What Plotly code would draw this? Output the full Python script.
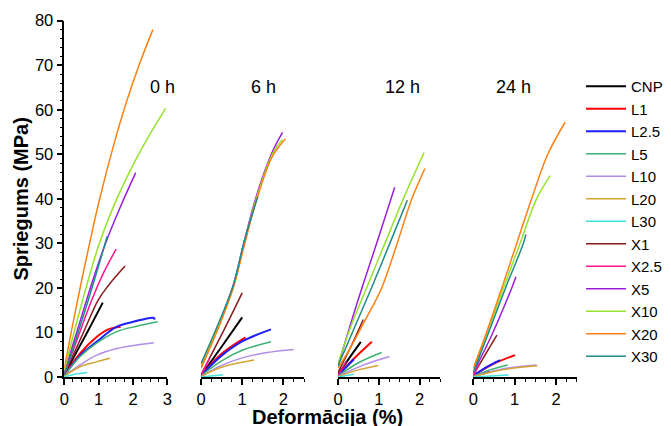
import plotly.graph_objects as go

# Series names, in legend order
SERIES = ["CNP", "L1", "L2.5", "L5", "L10", "L20", "L30",
          "X1", "X2.5", "X5", "X10", "X20", "X30"]

COLORS = {
    "CNP": "#000000", "L1": "#FF0000", "L2.5": "#1E1EFF", "L5": "#3CB371",
    "L10": "#B48CE6", "L20": "#D4A634", "L30": "#40E0E0", "X1": "#8B1A1A",
    "X2.5": "#FF1493", "X5": "#9A1ED8", "X10": "#97E22E", "X20": "#FF8010",
    "X30": "#1F8A8A",
}

PANELS = ["0 h", "6 h", "12 h", "24 h"]

# Strain (%) and stress (MPa) curves, 0 h
strain_0h = {
    "CNP": [0, 0.3, 0.7, 1.12],
    "L1": [0, 0.46, 0.94, 1.28, 1.64],
    "L2.5": [0, 0.46, 0.94, 1.53, 2.01, 2.59, 2.64],
    "L5": [0, 0.46, 0.94, 1.53, 2.11, 2.72],
    "L10": [0, 0.46, 0.94, 1.53, 2.11, 2.61],
    "L20": [0, 0.46, 0.94, 1.33],
    "L30": [0, 0.3, 0.67],
    "X1": [0, 0.5, 0.99, 1.28, 1.77],
    "X2.5": [0, 0.4, 0.8, 1.15, 1.51],
    "X5": [0, 0.4, 0.8, 1.2, 1.65, 2.08],
    "X10": [0, 0.3, 0.65, 1.0, 1.5, 2.2, 2.95],
    "X20": [0, 0.25, 0.5, 0.75, 1.0, 1.4, 1.8, 2.2, 2.58],
    "X30": [0, 0.7, 1.25],
}
stress_0h = {
    "CNP": [0.5, 4.8, 10.5, 16.7],
    "L1": [0.3, 5.3, 9.0, 10.7, 11.3],
    "L2.5": [0.3, 4.8, 7.9, 11.3, 12.4, 13.3, 12.9],
    "L5": [0.3, 4.6, 7.6, 10.2, 11.4, 12.4],
    "L10": [0.2, 2.7, 4.9, 6.4, 7.2, 7.7],
    "L20": [0.2, 2.3, 3.4, 4.2],
    "L30": [0, 0.6, 1.0],
    "X1": [0.5, 9, 17.3, 20.5, 24.9],
    "X2.5": [0.5, 9, 17.3, 23.5, 28.7],
    "X5": [1, 11, 21, 30, 38.5, 45.9],
    "X10": [1.5, 10.5, 20.5, 29.5, 39.5, 50.5, 60.3],
    "X20": [2, 12, 21.5, 30.5, 39, 51, 61.5, 70.5, 78],
    "X30": [0.5, 17.3, 31.6],
}

# 6 h
strain_6h = {
    "CNP": [0, 0.5, 1.0],
    "L1": [0, 0.5, 1.08],
    "L2.5": [0, 0.5, 1.0, 1.7],
    "L5": [0, 0.5, 1.0, 1.7],
    "L10": [0, 0.5, 1.0, 1.6, 2.25],
    "L20": [0, 0.5, 1.29],
    "L30": [0, 0.54],
    "X1": [0, 0.5, 1.0],
    "X2.5": [0, 0.2],
    "X5": [0, 0.4, 0.78, 1.05, 1.34, 1.73, 1.98],
    "X10": [0, 0.4, 0.78, 1.05, 1.34, 1.73, 1.97],
    "X20": [0, 0.4, 0.78, 1.05, 1.34, 1.73, 2.05],
    "X30": [0, 0.4, 0.78, 1.05, 1.38],
}
stress_6h = {
    "CNP": [0.3, 6.8, 13.4],
    "L1": [0.3, 5.2, 8.9],
    "L2.5": [0.3, 4.8, 8.0, 10.7],
    "L5": [0.2, 3.6, 6.0, 7.9],
    "L10": [0.1, 2.6, 4.3, 5.5, 6.2],
    "L20": [0.1, 2.2, 3.8],
    "L30": [0, 0.5],
    "X1": [0.5, 9.5, 18.9],
    "X2.5": [0.3, 4],
    "X5": [2, 11, 20.5, 30.5, 40.5, 50.5, 54.9],
    "X10": [2.5, 11, 20, 30, 40, 50, 53.3],
    "X20": [2, 10.5, 20, 29.5, 39.5, 49.5, 53.5],
    "X30": [3, 11.5, 20.5, 30.5, 40.5],
}

# 12 h
strain_12h = {
    "CNP": [0, 0.28, 0.56],
    "L1": [0, 0.4, 0.83],
    "L2.5": [0, 0.39],
    "L5": [0, 0.5, 1.07],
    "L10": [0, 0.6, 1.26],
    "L20": [0, 0.5, 0.99],
    "L30": [0, 0.39],
    "X1": [0, 0.3, 0.62],
    "X2.5": [0, 0.2],
    "X5": [0, 0.5, 1.0, 1.39],
    "X10": [0, 0.3, 0.7, 1.15, 1.6, 2.11],
    "X20": [0, 0.3, 0.65, 1.07, 1.45, 1.81, 2.13],
    "X30": [0, 0.4, 0.82, 1.27, 1.7],
}
stress_12h = {
    "CNP": [0.5, 4.3, 7.9],
    "L1": [0.3, 4.2, 7.9],
    "L2.5": [0.3, 4.0],
    "L5": [0.2, 3.2, 5.5],
    "L10": [0.1, 2.6, 4.6],
    "L20": [0.1, 1.6, 2.6],
    "L30": [0, 0.6],
    "X1": [1, 6.5, 12.9],
    "X2.5": [0.3, 3.5],
    "X5": [2.5, 17.5, 31.5, 42.6],
    "X10": [3, 11, 20, 30, 40, 50.4],
    "X20": [2, 6.5, 12.5, 20, 30, 40, 46.8],
    "X30": [2.5, 11, 20, 30, 39.7],
}

# 24 h
strain_24h = {
    "CNP": [0, 0.4],
    "L1": [0, 0.5, 1.01],
    "L2.5": [0, 0.35, 0.65],
    "L5": [0, 0.4, 0.83],
    "L10": [0, 0.7, 1.53],
    "L20": [0, 0.7, 1.55],
    "L30": [0, 0.85],
    "X1": [0, 0.57],
    "X2.5": [0, 0.15],
    "X5": [0, 0.45, 0.93, 1.03],
    "X10": [0, 0.3, 0.73, 1.13, 1.53, 1.86],
    "X20": [0, 0.3, 0.69, 1.05, 1.41, 1.8, 2.22],
    "X30": [0, 0.35, 0.78, 1.21, 1.27],
}
stress_24h = {
    "CNP": [0.2, 1.2],
    "L1": [0.3, 3.0, 4.9],
    "L2.5": [0.3, 2.4, 3.8],
    "L5": [0.2, 1.6, 2.7],
    "L10": [0.1, 1.8, 2.7],
    "L20": [0.1, 1.6, 2.5],
    "L30": [0, 0.45],
    "X1": [0.5, 9.4],
    "X2.5": [0.3, 3],
    "X5": [1, 9.5, 20, 22.5],
    "X10": [1.5, 9, 20, 30, 40, 45.2],
    "X20": [2, 9.5, 20, 30, 40, 50, 57.2],
    "X30": [1, 9.5, 20, 30, 32],
}

STRAIN = [strain_0h, strain_6h, strain_12h, strain_24h]
STRESS = [stress_0h, stress_6h, stress_12h, stress_24h]
X_RANGES = [[0, 3], [0, 2.5], [0, 2.5], [0, 2.5]]

W, H = 671, 426
FONT = "Arial, Liberation Sans, sans-serif"

fig = go.Figure()

for p, (sx, sy) in enumerate(zip(STRAIN, STRESS)):
    xref = "x" if p == 0 else f"x{p + 1}"
    for name in SERIES:
        wide = name in ("CNP", "L1", "L2.5")
        fig.add_trace(go.Scatter(
            x=sx[name], y=sy[name], mode="lines",
            line=dict(color=COLORS[name], width=2.0 if wide else 1.5,
                      shape="spline", smoothing=1.0),
            name=name, showlegend=(p == 0),
            xaxis=xref, yaxis="y",
        ))

# Pixel extents of each panel's x axis
panel_px = [(64.3, 167.3), (201, 304), (338, 440), (473.3, 576.7)]

axis_common = dict(
    showline=True, linecolor="black", linewidth=1.5,
    ticks="outside", ticklen=6, tickwidth=1.5, tickcolor="black",
    showgrid=False, zeroline=False, automargin=False,
    tickfont=dict(family=FONT, size=16.5, color="black"),
)

layout = dict(
    width=W, height=H, margin=dict(l=0, r=0, t=0, b=0, autoexpand=False),
    paper_bgcolor="white", plot_bgcolor="white",
    font=dict(family=FONT, color="black"),
    yaxis=dict(
        domain=[(H - 377) / H, (H - 20.7) / H], range=[0, 80],
        anchor="x", dtick=10, tick0=0,
        minor=dict(ticks="outside", ticklen=3, dtick=2, tickcolor="black", tickwidth=1),
        title=dict(text="<b>Spriegums (MPa)</b>", standoff=1,
                   font=dict(family=FONT, size=20, color="black")),
        **axis_common,
    ),
    legend=dict(
        x=581 / W, y=(H - 70) / H, xanchor="left", yanchor="top",
        font=dict(family=FONT, size=15, color="black"),
        bgcolor="rgba(0,0,0,0)", borderwidth=0, itemwidth=40,
    ),
    showlegend=True,
)

for p, (a, b) in enumerate(panel_px):
    key = "xaxis" if p == 0 else f"xaxis{p + 1}"
    layout[key] = dict(
        domain=[a / W, b / W], range=X_RANGES[p], anchor="y",
        dtick=1, tick0=0,
        minor=dict(ticks="outside", ticklen=3, dtick=0.25, tickcolor="black", tickwidth=1),
        **axis_common,
    )

fig.update_layout(**layout)

# Panel labels
label_px = [162, 263, 402.5, 513]
for text, cx in zip(PANELS, label_px):
    fig.add_annotation(
        x=cx / W, y=(H - 87) / H, xref="paper", yref="paper",
        text=text, showarrow=False, xanchor="center", yanchor="middle",
        font=dict(family=FONT, size=18, color="black"),
    )

# Shared x-axis title
fig.add_annotation(
    x=327.5 / W, y=(H - 417) / H, xref="paper", yref="paper",
    text="<b>Deformācija (%)</b>", showarrow=False,
    xanchor="center", yanchor="middle",
    font=dict(family=FONT, size=20, color="black"),
)

fig.write_html("out.html")
